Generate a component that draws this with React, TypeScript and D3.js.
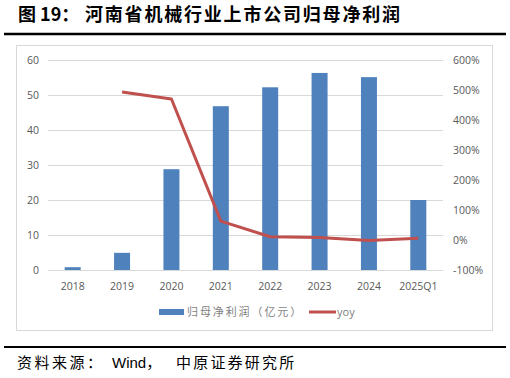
import React from "react";
import * as d3 from "d3";

const categories = ["2018", "2019", "2020", "2021", "2022", "2023", "2024", "2025Q1"];
const profit = [0.8, 4.9, 28.8, 46.8, 52.2, 56.3, 55.1, 20.0];
const yoy: (number | null)[] = [null, 493, 470, 63, 11, 8, -2, 6];
const leftTicks = [0, 10, 20, 30, 40, 50, 60];
const rightTicks = [-100, 0, 100, 200, 300, 400, 500, 600];
const titleLabel = "图 19：";
const titleText = "河南省机械行业上市公司归母净利润";
const sourceA = "资料来源：";
const sourceB = "Wind，";
const sourceC = "中原证券研究所";
const legendBar = "归母净利润（亿元）";
const legendLine = "yoy";

const W = 510, H = 378;
const plot = { left: 48, right: 443, top: 60, bottom: 270 };

export default function App() {
  const x = d3.scaleBand<string>().domain(categories).range([plot.left, plot.right]).paddingInner(0).paddingOuter(0);
  const yL = d3.scaleLinear().domain([0, 60]).range([plot.bottom, plot.top]);
  const yR = d3.scaleLinear().domain([-100, 600]).range([plot.bottom, plot.top]);
  const barW = 16;
  const line = d3
    .line<[string, number | null]>()
    .defined((d) => d[1] !== null)
    .x((d) => (x(d[0]) as number) + x.bandwidth() / 2)
    .y((d) => yR(d[1] as number));
  const pairs: [string, number | null][] = categories.map((c, i) => [c, yoy[i]]);
  const font = "'Open Sans', 'Noto Sans CJK SC', sans-serif";
  const cjk = "'Noto Sans CJK SC', sans-serif";
  return (
    <svg width={W} height={H} style={{ position: "absolute", left: 0, top: 0 }}>
      <rect x={0} y={0} width={W} height={H} fill="#fff" />
      <text x={18} y={21} fontFamily={cjk} fontWeight={700} fontSize={18} fill="#000">
        <tspan>{titleLabel}</tspan>
        <tspan x={85} letterSpacing={1.8}>{titleText}</tspan>
      </text>
      <line x1={4} x2={506} y1={34} y2={34} stroke="#000" strokeWidth={2.5} />
      <rect x={16.5} y={45.5} width={476} height={285} fill="none" stroke="#d9d9d9" strokeWidth={1} />
      {leftTicks.map((t) => (
        <line key={"g" + t} x1={plot.left} x2={plot.right} y1={Math.round(yL(t)) + 0.5} y2={Math.round(yL(t)) + 0.5} stroke="#d9d9d9" strokeWidth={1} />
      ))}
      {leftTicks.map((t) => (
        <text key={"l" + t} x={39} y={yL(t)} dy="0.35em" textAnchor="end" fontFamily={font} fontSize={10.5} fill="#595959">{t}</text>
      ))}
      {rightTicks.map((t) => (
        <text key={"r" + t} x={453} y={yR(t)} dy="0.35em" textAnchor="start" fontFamily={font} fontSize={10.5} fill="#595959">{t + "%"}</text>
      ))}
      {categories.map((c, i) => (
        <rect key={"b" + c} x={(x(c) as number) + x.bandwidth() / 2 - barW / 2} y={yL(profit[i])} width={barW} height={yL(0) - yL(profit[i])} fill="#4F81BD" />
      ))}
      {categories.map((c) => (
        <text key={"x" + c} x={(x(c) as number) + x.bandwidth() / 2} y={286} dy="0.35em" textAnchor="middle" fontFamily={font} fontSize={10.5} fill="#595959">{c}</text>
      ))}
      <path d={line(pairs) || ""} fill="none" stroke="#C0504D" strokeWidth={3} strokeLinejoin="round" />
      <rect x={159} y={309} width={25} height={6} fill="#4F81BD" />
      <text x={187} y={312} dy="0.35em" fontFamily={cjk} fontSize={11} letterSpacing={1.9} fill="#7f7f7f">{legendBar}</text>
      <line x1={309} x2={336} y1={312} y2={312} stroke="#C0504D" strokeWidth={3} />
      <text x={337} y={312} dy="0.35em" fontFamily={font} fontSize={11} fill="#7f7f7f">{legendLine}</text>
      <line x1={4} x2={506} y1={347} y2={347} stroke="#000" strokeWidth={2} />
      <text x={17} y={363} dy="0.35em" fontSize={15} fill="#000">
        <tspan fontFamily={cjk} letterSpacing={2.5}>{sourceA}</tspan>
        <tspan x={112} fontFamily="'Liberation Sans', Arial, sans-serif">{sourceB.slice(0, 4)}</tspan>
        <tspan fontFamily={cjk} letterSpacing={2.5}>{sourceB.slice(4)}</tspan>
        <tspan x={176} fontFamily={cjk} letterSpacing={2.2}>{sourceC}</tspan>
      </text>
    </svg>
  );
}
